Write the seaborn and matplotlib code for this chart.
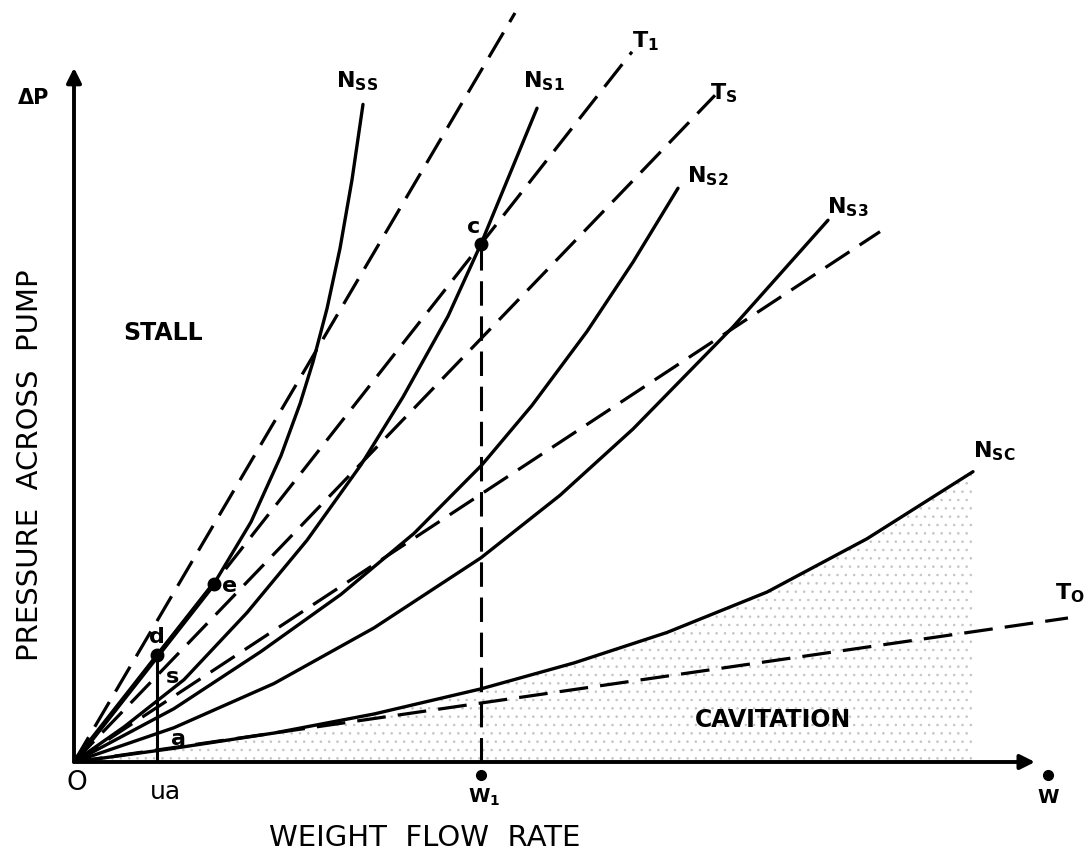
import matplotlib
matplotlib.use("Agg")
import matplotlib.pyplot as plt
import matplotlib.transforms as mtransforms
import seaborn as sns

# Pump speed lines N (solid): weight flow rate W vs. pressure rise dP
nss_w = [0, 4.1, 8.3, 14.0, 17.7, 20.7, 22.6, 23.9, 25.3, 26.6, 27.8, 28.9]
nss_p = [0, 6.8, 14.0, 23.4, 31.5, 40.2, 47.0, 52.5, 59.5, 67.4, 76.4, 86.3]
ns1_w = [0, 5.0, 11.0, 17.3, 23.3, 28.7, 32.9, 37.4, 40.7, 46.3]
ns1_p = [0, 4.6, 10.8, 19.6, 29.1, 39.0, 47.9, 58.5, 68.0, 85.8]
ns2_w = [0, 10.0, 18.7, 26.7, 34.0, 40.8, 45.8, 51.3, 55.9, 60.4]
ns2_p = [0, 7.0, 14.5, 22.0, 30.0, 39.0, 46.8, 56.5, 65.6, 75.3]
ns3_w = [0, 10.0, 20.0, 30.0, 40.7, 48.6, 55.9, 65.9, 75.4]
ns3_p = [0, 4.5, 10.3, 17.6, 26.8, 35.0, 43.7, 57.1, 71.1]
nsc_w = [0, 10.0, 20.0, 30.0, 40.7, 50.0, 59.3, 69.3, 79.3, 89.9]
nsc_p = [0, 1.8, 3.8, 6.3, 9.6, 13.0, 17.0, 22.3, 29.3, 38.1]

# Throttle lines T (dashed) through the origin: end points
throttle_end_w = [44.1, 55.8, 64.1, 80.6, 99.4]
throttle_end_p = [98.3, 93.2, 87.5, 69.6, 18.9]

# Marked operating points
w_ua = 8.3      # flow u_a, point s on N_SS
w_1 = 40.7      # flow W1, point c on N_S1
p_s = 14.0
p_c = 68.0
w_e, p_e = 14.0, 23.4

speed_curves = [(nss_w, nss_p), (ns1_w, ns1_p), (ns2_w, ns2_p),
                (ns3_w, ns3_p), (nsc_w, nsc_p)]

sns.set_theme(style="white")
plt.rcParams["font.family"] = ["DejaVu Sans"]
plt.rcParams["mathtext.fontset"] = "dejavusans"
plt.rcParams["hatch.color"] = "#c4c4c4"
plt.rcParams["hatch.linewidth"] = 0.6

fig = plt.figure(figsize=(10.84, 8.58), dpi=100)
fig.patch.set_facecolor("white")
ax = fig.add_axes([74 / 1084, 96 / 858, 1010 / 1084, 762 / 858])
ax.set_xlim(0, 101)
ax.set_ylim(0, 100)
ax.set_axis_off()

# stippled cavitation zone under N_SC
ax.fill_between(nsc_w, 0, nsc_p, facecolor="none", edgecolor="#c4c4c4",
                hatch="..", linewidth=0, zorder=1)

dash = (0, (9, 3.8))
for we, pe in zip(throttle_end_w, throttle_end_p):
    sns.lineplot(x=[0, we], y=[0, pe], ax=ax, color="black", lw=2.3,
                 linestyle=dash, sort=False, estimator=None, zorder=3)

for w, p in speed_curves:
    sns.lineplot(x=w, y=p, ax=ax, color="black", lw=2.4, sort=False,
                 estimator=None, zorder=4)

# thick overlap of N_SS and T1 near the origin
sns.lineplot(x=[0, w_e], y=[0, p_e], ax=ax, color="black", lw=3.6,
             sort=False, estimator=None, zorder=4)

# construction lines
sns.lineplot(x=[w_ua, w_ua], y=[0, p_s], ax=ax, color="black", lw=2.2,
             sort=False, estimator=None, zorder=4)
sns.lineplot(x=[w_1, w_1], y=[0, p_c], ax=ax, color="black", lw=2.2,
             linestyle=(0, (8, 3.5)), sort=False, estimator=None, zorder=4)

# operating points
ax.plot([w_1, w_e, w_ua], [p_c, p_e, p_s], "o", color="black", ms=9, zorder=5)

# axes with arrows
arrow = dict(arrowstyle="-|>", lw=2.8, color="black", mutation_scale=22,
             shrinkA=0, shrinkB=0)
ax.annotate("", xy=(0, 91.1), xytext=(0, 0), arrowprops=arrow,
            annotation_clip=False)
ax.annotate("", xy=(96.1, 0), xytext=(0, 0), arrowprops=arrow,
            annotation_clip=False)

# dots above W1 and W on the flow axis
below = ax.transData + mtransforms.ScaledTranslation(0, -0.13, fig.dpi_scale_trans)
ax.plot([w_1, 97.4], [0, 0], "o", color="black", ms=7, transform=below,
        clip_on=False)

lab = dict(color="black", fontsize=16, fontweight="bold")
ax.text(26.2, 88.5, r"N$_\mathbf{SS}$", **lab)
ax.text(44.9, 88.5, r"N$_\mathbf{S1}$", **lab)
ax.text(55.8, 93.8, r"T$_\mathbf{1}$", **lab)
ax.text(63.6, 86.9, r"T$_\mathbf{S}$", **lab)
ax.text(61.3, 76.1, r"N$_\mathbf{S2}$", **lab)
ax.text(75.3, 72.0, r"N$_\mathbf{S3}$", **lab)
ax.text(89.9, 40.0, r"N$_\mathbf{SC}$", **lab)
ax.text(98.1, 21.3, r"T$_\mathbf{O}$", **lab)

ax.text(39.3, 69.4, "c", **lab)
ax.text(14.8, 22.3, "e", **lab)
ax.text(7.5, 15.6, "d", **lab)
ax.text(9.2, 10.4, "s", **lab)
ax.text(9.7, 2.2, "a", **lab)

ax.text(4.9, 55.4, "STALL", color="black", fontsize=17, fontweight="bold")
ax.text(62.1, 4.6, "CAVITATION", color="black", fontsize=17, fontweight="bold")

ax.text(-5.6, 86.4, "ΔP", color="black", fontsize=15, fontweight="bold")
ax.text(-4.4, 39.0, "PRESSURE  ACROSS  PUMP", rotation=90, ha="center",
        va="center", color="black", fontsize=21)
ax.text(35.1, -10.0, "WEIGHT  FLOW  RATE", ha="center", va="center",
        color="black", fontsize=21)
ax.text(0.3, -2.8, "O", ha="center", va="center", color="black", fontsize=19)
ax.text(7.6, -3.9, "ua", ha="left", va="center", color="black", fontsize=18)
ax.text(w_1 + 0.3, -4.6, r"W$_\mathbf{1}$", ha="center", va="center",
        color="black", fontsize=14, fontweight="bold")
ax.text(97.4, -4.6, "W", ha="center", va="center", color="black",
        fontsize=14, fontweight="bold")

fig.savefig("out.png", dpi=100, facecolor="white")
